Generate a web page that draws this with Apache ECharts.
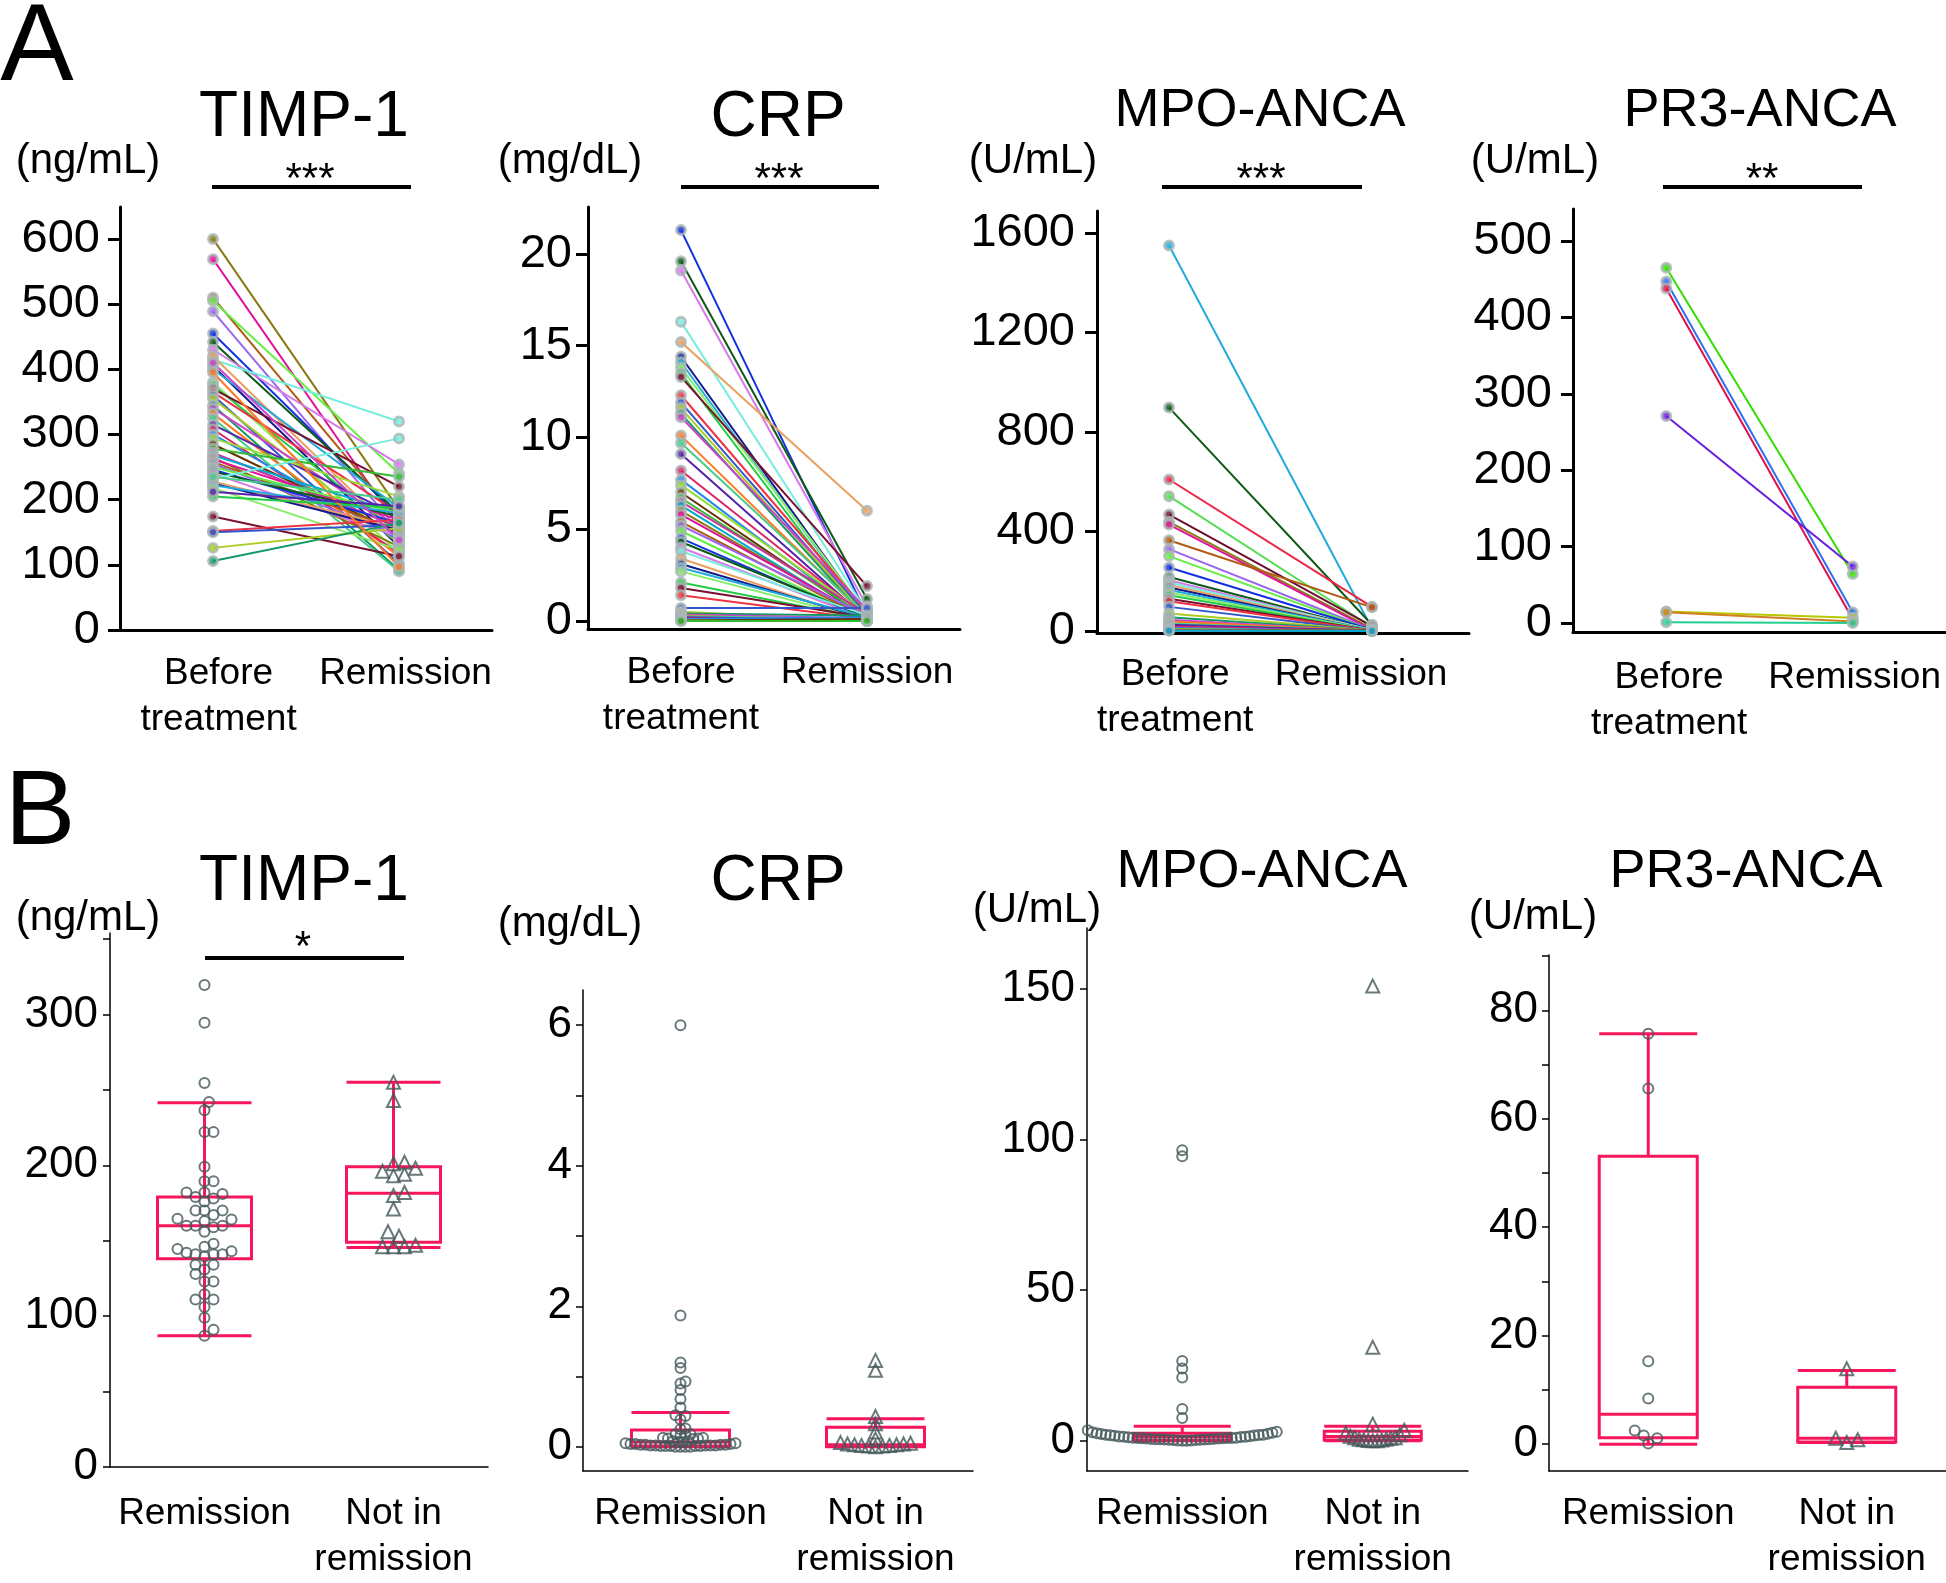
<!DOCTYPE html>
<html><head><meta charset="utf-8">
<script src="https://cdn.jsdelivr.net/npm/echarts@6/dist/echarts.min.js"></script>
<style>html,body{margin:0;padding:0;background:#fff}#c{width:1946px;height:1583px}</style>
</head><body><div id="c"></div>
<script>
// ---------- categories & tick labels ----------
const pairCategories = ['Before\ntreatment', 'Remission'];
const groupCategories = ['Remission', 'Not in\nremission'];

const timpPairTicks = [0, 100, 200, 300, 400, 500, 600];
const crpPairTicks = [0, 5, 10, 15, 20];
const mpoPairTicks = [0, 400, 800, 1200, 1600];
const pr3PairTicks = [0, 100, 200, 300, 400, 500];

const timpGroupLabels = [0, 100, 200, 300];
const timpGroupTicks = [0, 50, 100, 150, 200, 250, 300, 350];
const crpGroupLabels = [0, 2, 4, 6];
const crpGroupTicks = [0, 1, 2, 3, 4, 5, 6];
const mpoGroupLabels = [0, 50, 100, 150];
const mpoGroupTicks = [0, 50, 100, 150];
const pr3GroupLabels = [0, 20, 40, 60, 80];
const pr3GroupTicks = [0, 10, 20, 30, 40, 50, 60, 70, 80, 90];

// ---------- A: paired values (before treatment -> remission) ----------
const timpBefore = [600,569,510,489,505,455,442,430,415,420,405,400,380,375,370,365,360,355,345,340,332,325,315,308,300,294,285,278,272,268,265,262,258,255,250,246,243,240,232,228,225,222,218,205,174,152,150,126,106,410,395,235,212];
const timpAfter  = [185,158,169,153,240,174,179,254,320,143,128,187,118,148,220,179,102,133,92,158,113,90,174,118,138,205,148,235,158,179,128,169,153,146,179,164,174,143,294,156,153,179,123,187,113,169,161,156,164,138,97,200,190];

const crpBefore = [21.3,19.6,19.1,16.3,15.2,14.4,14.1,13.8,13.5,13.3,12.3,11.9,11.6,11.3,11.1,10.1,9.7,9.1,8.2,7.7,7.4,7.0,6.7,6.5,6.3,6.0,5.8,5.4,5.2,4.9,4.5,4.3,4.0,3.8,3.4,3.1,2.9,2.7,2.1,1.8,1.4,0.7,0.5,0.4,0.35,0.3,0.25,0.2,0.15,0.1,0.05,0.02,0.0];
const crpAfter  = [0.3,1.2,0.8,0.5,6.0,0.3,0.2,0.4,0.1,1.9,0.5,0.3,0.2,0.1,0.6,0.2,0.3,0.1,0.2,0.05,0.3,0.1,0.2,0.4,0.0,0.1,0.2,0.1,0.3,0.05,0.1,0.2,0.1,0.3,0.0,0.1,0.2,0.05,0.1,0.2,0.1,0.7,0.02,0.3,0.15,0.0,0.1,0.05,0.0,0.2,0.0,0.1,0.0];

const mpoBefore = [1549,898,609,542,468,439,428,365,329,301,255,217,204,195,185,175,165,155,144,130,120,97,70,55,45,38,30,25,18,12,8,5,3,2,1];
const mpoAfter  = [10,25,97,15,20,10,5,95,5,3,5,3,2,4,2,1,3,2,1,2,1,1,2,1,0,1,0,1,0,0,0,1,0,0,0];

const pr3Before = [465,447,438,271,15,14,1];
const pr3After  = [64,14,5,74,7,2,0];

// ---------- B: remission vs not in remission ----------
const timpRem = [319.5,294.5,254.5,242,236.5,222,222,199,189.5,189.5,181,179,182,182,178,176,170,167,170,170,164.5,159,163,160,156,164,160,160,146,144.5,148,141,141,139.5,142,143,141,131,134,134,128,123,123,114.5,111,111,106,99,91,87];
const timpNot = [255,243,202,201,196,193,194,198,180,182,171,153,156,146,146,146,147];
const timpBox = [[87,138,160,179,241.5],[145.5,149,181.5,199,255]];

const crpRem = [6.0,1.87,1.2,1.12,0.93,0.9,0.81,0.68,0.56,0.45,0.44,0.39,0.26,0.25,0.18,0.18,0.17,0.16,0.13,0.13,0.12,0.12,0.11,0.08,0.08,0.07,0.07,0.05,0.05,0.04,0.04,0.04,0.03,0.03,0.03,0.03,0.02,0.02,0.02,0.02,0.02,0.01,0.01,0.01,0.01,0.01,0.0,0.0,0.0,0.0];
const crpNot = [1.23,1.09,0.43,0.33,0.21,0.11,0.06,0.05,0.04,0.04,0.03,0.03,0.02,0.02,0.01,0.01,0.0];
const crpBox = [[0,0.01,0.07,0.24,0.49],[0,0.0,0.03,0.28,0.40]];

const mpoRem = [96.5,94.5,26.5,24,21,10.5,7.5,3.5,3.0,2.8,2.6,2.5,2.3,2.2,2.0,2.0,1.9,1.8,1.7,1.6,1.5,1.4,1.3,1.3,1.2,1.1,1.0,1.0,0.9,0.9,0.9,0.8,0.8,0.7,0.7,0.6,0.6,0.5,0.5,0.5,0.4,0.4,0.3,0.3,0.2,0.2,0.1,0.1,0.0,0.0];
const mpoNot = [151,31,5.5,3.5,2.5,2.0,1.5,1.0,1.0,0.8,0.5,0.5,0.3,0.2,0.1,0.0,0.0];
const mpoBox = [[0,0.2,1.4,2.5,4.8],[0,0.2,1.4,3.1,4.8]];

const pr3Rem = [75.7,65.6,15.3,8.4,2.5,1.6,1.1,0.1];
const pr3Not = [13.9,1.1,0.8,0.3];
const pr3Box = [[0,1.2,5.5,53.1,75.7],[0.3,0.4,1.1,10.5,13.6]];

// ---------- styles ----------
const FONT = '"Liberation Sans", Arial, Helvetica, sans-serif';
const lineColors = ['#8a7a12','#e0129a','#b05a10','#9a66ee','#66ee44','#1230e0','#0c5a14','#d878e8','#77eedd','#e8a060',
  '#111a88','#22aadd','#88ee66','#22cc44','#7a1030','#ee3344','#3355cc','#aacc22','#119966','#cc44cc',
  '#ff7722','#44cc88','#5522aa','#dd2266','#2288ee','#99dd33','#663300','#33bb33','#cc3399','#00aacc'];
const pr3Colors = ['#33dd00','#2f6ff0','#e0104a','#6a1be0','#b8c800','#d08020','#20d090'];
const boxColor = '#f7165c';
const markColor = '#44585a';

// layout of each panel (pixel grid, axis ranges, label positions on the x axis)
const aPanels = [
  {before: timpBefore, after: timpAfter, ticks: timpPairTicks, colors: lineColors, g: [120, 207, 372, 423], y: [0, 649], x: [-0.5, 1.5], lx: [0.03, 1.035], lm: 20, xm: 21},
  {before: crpBefore, after: crpAfter, ticks: crpPairTicks, colors: lineColors.slice(5).concat(lineColors.slice(0,5)), g: [588, 207, 372, 422], y: [-0.44, 22.56], x: [-0.5, 1.5], lx: [0, 1], lm: 16, xm: 21},
  {before: mpoBefore, after: mpoAfter, ticks: mpoPairTicks, colors: ['#22aadd','#0c5a14','#ee2244','#55dd55','#6a1030'].concat(lineColors), g: [1097, 211, 372, 422], y: [-8, 1688], x: [-0.355, 1.478], lx: [0.03, 0.946], lm: 22, xm: 19},
  {before: pr3Before, after: pr3After, ticks: pr3PairTicks, colors: pr3Colors, g: [1573, 209, 373, 423], y: [-11.8, 542], x: [-0.5, 1.5], lx: [0.015, 1.01], lm: 21, xm: 23}
];
const bPanels = [
  {rem: timpRem, not: timpNot, box: timpBox, labels: timpGroupLabels, ticks: timpGroupTicks, g: [110, 933, 378, 542], y: [0, 354], lm: 12, xm: 24, bw: 94, d: 9, dn: 11, flat: 0},
  {rem: crpRem, not: crpNot, box: crpBox, labels: crpGroupLabels, ticks: crpGroupTicks, g: [583, 990, 390, 487], y: [-0.344, 6.50], lm: 11, xm: 20, bw: 98, d: 5, dn: 7, flat: 0},
  {rem: mpoRem, not: mpoNot, box: mpoBox, labels: mpoGroupLabels, ticks: mpoGroupTicks, g: [1087, 928, 381, 554], y: [-10.07, 170.3], lm: 12, xm: 20, bw: 97, d: 4.5, dn: 4.5, flat: 12},
  {rem: pr3Rem, not: pr3Not, box: pr3Box, labels: pr3GroupLabels, ticks: pr3GroupTicks, g: [1549, 955, 397, 527], y: [-4.95, 90.2], lm: 11, xm: 20, bw: 98, d: 9, dn: 11, flat: 0}
];

// simple beeswarm layout (pixel offsets) computed from values;
// values closer to zero than `flat` px are laid out as one row
function swarm(vals, ppu, d, flat) {
  const order = vals.map((v, i) => i).sort((a, b) => vals[a] - vals[b]);
  const placed = [];
  const off = new Array(vals.length).fill(0);
  const step = d / 2;
  for (const i of order) {
    let y = vals[i] * ppu;
    if (y < flat) y = 0;
    for (let k = 0; k < 800; k++) {
      const x = k === 0 ? 0 : (k % 2 === 1 ? 1 : -1) * Math.ceil(k / 2) * step;
      if (placed.every(p => (p.x - x) * (p.x - x) + (p.y - y) * (p.y - y) >= d * d * 0.999)) {
        off[i] = x; placed.push({x, y}); break;
      }
    }
  }
  return off;
}

const option = {animation: false, backgroundColor: '#fff', grid: [], xAxis: [], yAxis: [], series: [], graphic: []};

aPanels.forEach((p, idx) => {
  option.grid.push({left: p.g[0], top: p.g[1], width: p.g[2], height: p.g[3], containLabel: false});
  option.xAxis.push({
    type: 'value', gridIndex: idx, min: p.x[0], max: p.x[1],
    axisLine: {show: true, onZero: false, lineStyle: {color: '#000', width: 3}},
    axisTick: {show: false}, splitLine: {show: false},
    axisLabel: {customValues: p.lx, formatter: v => pairCategories[Math.round(v)], margin: p.xm,
      fontSize: 37, lineHeight: 46, color: '#000', fontFamily: FONT}
  });
  option.yAxis.push({
    type: 'value', gridIndex: idx, min: p.y[0], max: p.y[1],
    axisLine: {show: true, onZero: false, lineStyle: {color: '#000', width: 3}},
    axisTick: {show: true, length: 12, customValues: p.ticks, lineStyle: {color: '#000', width: 3}},
    splitLine: {show: false},
    axisLabel: {customValues: p.ticks, formatter: v => String(v), margin: p.lm, fontSize: 47, color: '#000', fontFamily: FONT}
  });
  const pts = [];
  p.before.forEach((b, i) => {
    const c = p.colors[i % p.colors.length];
    option.series.push({type: 'line', xAxisIndex: idx, yAxisIndex: idx, silent: true, z: 2,
      symbol: 'none', data: [[0, b], [1, p.after[i]]], lineStyle: {color: c, width: 2}});
    pts.push({value: [0, b], itemStyle: {color: c}});
    pts.push({value: [1, p.after[i]], itemStyle: {color: c}});
  });
  option.series.push({type: 'scatter', xAxisIndex: idx, yAxisIndex: idx, silent: true, z: 3,
    symbol: 'circle', symbolSize: 9, data: pts, itemStyle: {borderColor: '#aab6b6', borderWidth: 3}});
});

bPanels.forEach((p, k) => {
  const idx = k + 4;
  option.grid.push({left: p.g[0], top: p.g[1], width: p.g[2], height: p.g[3], containLabel: false});
  option.xAxis.push({
    type: 'category', gridIndex: idx, data: groupCategories,
    axisLine: {show: true, onZero: false, lineStyle: {color: '#000', width: 1.5}},
    axisTick: {show: false}, splitLine: {show: false},
    axisLabel: {interval: 0, margin: p.xm, fontSize: 37, lineHeight: 46, color: '#000', fontFamily: FONT}
  });
  option.yAxis.push({
    type: 'value', gridIndex: idx, min: p.y[0], max: p.y[1],
    axisLine: {show: true, onZero: false, lineStyle: {color: '#000', width: 1.5}},
    axisTick: {show: true, length: 7, customValues: p.ticks, lineStyle: {color: '#000', width: 1.5}},
    splitLine: {show: false},
    axisLabel: {customValues: p.labels, formatter: v => String(v), margin: p.lm, fontSize: 44, color: '#000', fontFamily: FONT}
  });
  option.series.push({type: 'boxplot', xAxisIndex: idx, yAxisIndex: idx, silent: true, z: 2,
    boxWidth: [p.bw, p.bw], data: p.box,
    itemStyle: {color: 'rgba(0,0,0,0)', borderColor: boxColor, borderWidth: 3}});
  const ppu = p.g[3] / (p.y[1] - p.y[0]);
  const offR = swarm(p.rem, ppu, p.d, p.flat);
  const offN = swarm(p.not, ppu, p.dn, p.flat);
  option.series.push({type: 'scatter', xAxisIndex: idx, yAxisIndex: idx, silent: true, z: 3,
    symbol: 'circle', symbolSize: 10,
    data: p.rem.map((v, i) => ({value: [0, v], symbolOffset: [offR[i], 0]})),
    itemStyle: {color: 'rgba(0,0,0,0)', borderColor: markColor, borderWidth: 2}});
  option.series.push({type: 'scatter', xAxisIndex: idx, yAxisIndex: idx, silent: true, z: 3,
    symbol: 'triangle', symbolSize: 13,
    data: p.not.map((v, i) => ({value: [1, v], symbolOffset: [offN[i], 0]})),
    itemStyle: {color: 'rgba(0,0,0,0)', borderColor: markColor, borderWidth: 2}});
});

// ---------- annotations ----------
function txt(text, x, y, size) {
  return {type: 'text', x: x, y: y + size * 0.05, silent: true, z: 10,
    style: {text: text, font: size + 'px ' + FONT, fill: '#000', textAlign: 'center', textVerticalAlign: 'middle'}};
}
function bar(x1, x2, y) {
  return {type: 'rect', silent: true, z: 10, shape: {x: x1, y: y - 2, width: x2 - x1, height: 4}, style: {fill: '#000'}};
}
option.graphic = [
  txt('A', 37, 44, 110), txt('B', 40, 809, 106),
  txt('TIMP-1', 304, 115, 64), txt('CRP', 778, 115, 64), txt('MPO-ANCA', 1260, 108, 54), txt('PR3-ANCA', 1760, 108, 54),
  txt('(ng/mL)', 88, 159, 42), txt('(mg/dL)', 570, 159, 42), txt('(U/mL)', 1033, 159, 42), txt('(U/mL)', 1535, 159, 42),
  txt('***', 310, 178, 42), txt('***', 779, 178, 42), txt('***', 1261, 178, 42), txt('**', 1762, 178, 42),
  bar(212, 411, 187), bar(681, 879, 187), bar(1162, 1362, 187), bar(1663, 1862, 187),
  txt('TIMP-1', 304, 879, 64), txt('CRP', 778, 879, 64), txt('MPO-ANCA', 1262, 869, 54), txt('PR3-ANCA', 1746, 869, 54),
  txt('(ng/mL)', 88, 916, 42), txt('(mg/dL)', 570, 922, 42), txt('(U/mL)', 1037, 908, 42), txt('(U/mL)', 1533, 915, 42),
  txt('*', 303, 946, 42), bar(205, 404, 958)
];

const chart = echarts.init(document.getElementById('c'), null, {renderer: 'canvas'});
chart.setOption(option);
</script>
</body></html>
